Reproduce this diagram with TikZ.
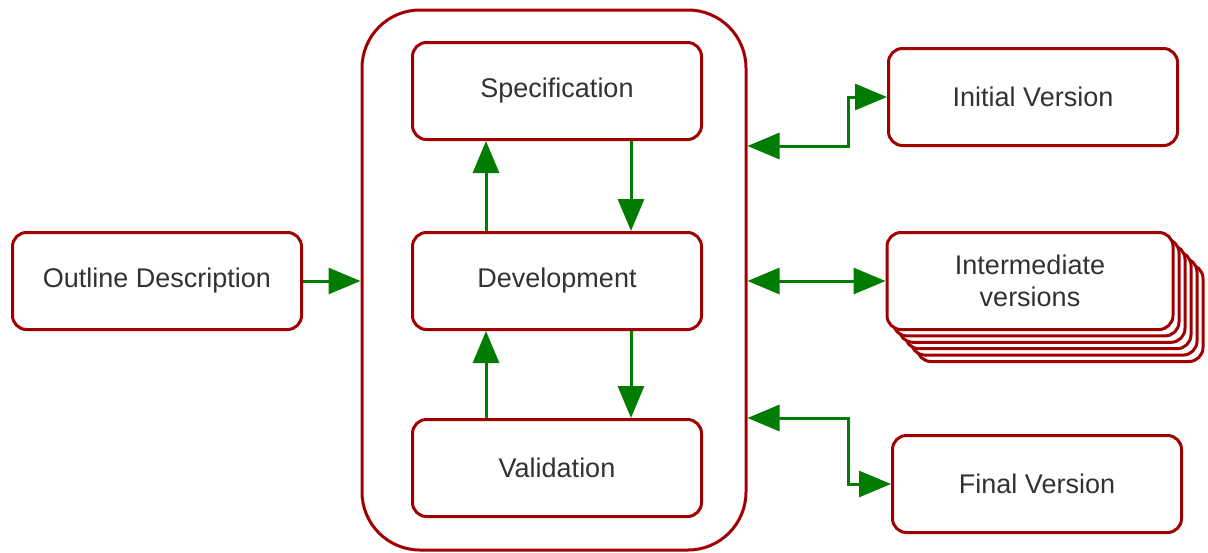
\documentclass[tikz,border=0pt]{standalone}
\usepackage{fontspec}
\setmainfont{Liberation Sans}
\usetikzlibrary{arrows.meta,positioning}
\definecolor{boxred}{RGB}{160,0,0}
\definecolor{arrgreen}{RGB}{0,125,0}
\definecolor{txtgray}{RGB}{50,50,50}

\begin{document}
\begin{tikzpicture}[x=1pt,y=-1pt,
  stagebox/.style={draw=boxred,line width=3pt,rounded corners=14pt,fill=white,align=center,
    minimum width=289pt,minimum height=97pt,text=txtgray,font=\fontsize{27}{32}\selectfont},
  outerbox/.style={draw=boxred,line width=3pt,rounded corners=58pt,minimum width=384pt,minimum height=540pt},
  flow/.style={draw=arrgreen,line width=3pt,-{Triangle[length=32pt,width=26pt]}},
  flow2/.style={draw=arrgreen,line width=3pt,{Triangle[length=32pt,width=26pt]}-{Triangle[length=32pt,width=26pt]}}]
\useasboundingbox (0,0) rectangle (1208,552);
\node[outerbox] (cont) at (554,280) {};
\node[stagebox] (spec) at (557,91) {Specification};
\node[stagebox] (dev) at (557,281) {Development};
\node[stagebox] (val) at (557,468) {Validation};
\node[stagebox] (outline) at (157,281) {Outline Description};
\node[stagebox] (init) at (1033,97) {Initial Version};
% stacked copies behind the intermediate box
\foreach \k in {5,4,...,1}
  \node[stagebox,minimum width=286pt,xshift=\k*6pt,yshift=-\k*6.4pt] (inter\k) at (1030,281) {};
\node[stagebox,minimum width=286pt] (inter) at (1030,281) {Intermediate\\versions};
\node[stagebox] (final) at (1037,484) {Final Version};
% inner cycle
\draw[flow] ([xshift=74pt]spec.south) -- ([xshift=74pt]dev.north);
\draw[flow] ([xshift=-71pt]dev.north) -- ([xshift=-71pt]spec.south);
\draw[flow] ([xshift=74pt]dev.south) -- ([xshift=74pt]val.north);
\draw[flow] ([xshift=-71pt]val.north) -- ([xshift=-71pt]dev.south);
% in and out
\draw[flow] (outline.east) -- (outline.east -| cont.west);
\draw[flow2] (cont.east |- 0,146) -- (848,146) |- (init.west);
\draw[flow2] (cont.east |- inter.west) -- (inter.west);
\draw[flow2] (cont.east |- 0,418) -- (848,418) |- (final.west);
\end{tikzpicture}
\end{document}
